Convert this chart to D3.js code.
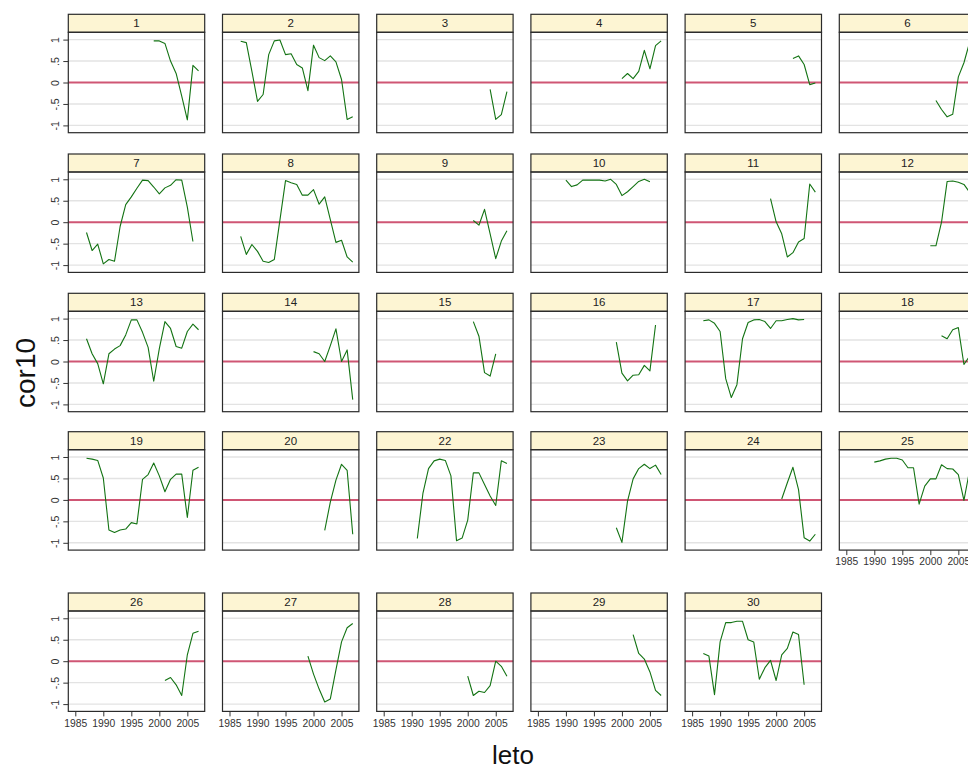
<!DOCTYPE html>
<html>
<head>
<meta charset="utf-8">
<script src="https://cdn.jsdelivr.net/npm/d3@7"></script>
<style>
  html, body { margin: 0; padding: 0; background: #fff; }
  svg { display: block; font-family: "Liberation Sans", Arial, sans-serif; }
</style>
</head>
<body>
<svg id="chart" width="968" height="767"></svg>
<script>
// Panel labels (group 21 has no data and is not drawn)
const panelIds = [1, 2, 3, 4, 5, 6, 7, 8, 9, 10, 11, 12, 13, 14, 15, 16, 17, 18,
                  19, 20, 22, 23, 24, 25, 26, 27, 28, 29, 30];

// First year of each panel's series (consecutive yearly values follow)
const startYears = [1999, 1987, 2004, 2000, 2003, 2001, 1987, 1987, 2001, 1990, 1999, 2000,
                    1987, 2000, 2001, 1999, 1987, 2002, 1987, 2002, 1991, 1999, 2001, 1990,
                    2001, 1999, 2000, 2002, 1987];

// cor10 values per panel
const cor10 = [
  [0.97, 0.97, 0.91, 0.50, 0.21, -0.32, -0.87, 0.40, 0.27],
  [0.96, 0.93, 0.26, -0.44, -0.28, 0.65, 0.97, 0.99, 0.65, 0.67, 0.42, 0.34, -0.19, 0.87, 0.58, 0.51, 0.62, 0.48, 0.07, -0.86, -0.80],
  [-0.16, -0.86, -0.75, -0.21],
  [0.09, 0.21, 0.09, 0.26, 0.75, 0.32, 0.86, 0.97],
  [0.56, 0.62, 0.42, -0.05, -0.01],
  [-0.42, -0.63, -0.80, -0.74, 0.13, 0.46, 0.93],
  [-0.24, -0.66, -0.51, -0.97, -0.87, -0.91, -0.10, 0.41, 0.59, 0.79, 0.98, 0.97, 0.82, 0.66, 0.80, 0.86, 0.99, 0.98, 0.35, -0.45],
  [-0.33, -0.75, -0.52, -0.68, -0.91, -0.94, -0.87, 0.05, 0.97, 0.92, 0.88, 0.63, 0.63, 0.76, 0.42, 0.59, 0.06, -0.47, -0.42, -0.81, -0.93],
  [0.04, -0.07, 0.30, -0.27, -0.85, -0.44, -0.20],
  [0.98, 0.83, 0.87, 0.98, 0.98, 0.98, 0.98, 0.96, 1.00, 0.88, 0.62, 0.71, 0.83, 0.95, 1.00, 0.94],
  [0.55, 0.01, -0.27, -0.81, -0.71, -0.46, -0.38, 0.89, 0.70],
  [-0.55, -0.55, 0.00, 0.95, 0.96, 0.93, 0.88, 0.70],
  [0.53, 0.18, -0.05, -0.52, 0.18, 0.29, 0.37, 0.62, 0.97, 0.97, 0.68, 0.33, -0.46, 0.30, 0.93, 0.77, 0.35, 0.31, 0.70, 0.87, 0.74],
  [0.23, 0.18, 0.00, 0.37, 0.76, 0.00, 0.27, -0.89],
  [0.93, 0.59, -0.26, -0.34, 0.18],
  [0.45, -0.27, -0.45, -0.32, -0.31, -0.09, -0.22, 0.85],
  [0.95, 0.97, 0.89, 0.70, -0.40, -0.84, -0.54, 0.53, 0.91, 0.97, 0.98, 0.93, 0.77, 0.95, 0.95, 0.98, 1.00, 0.97, 0.98],
  [0.60, 0.53, 0.74, 0.79, -0.07, 0.12],
  [0.97, 0.95, 0.92, 0.51, -0.70, -0.76, -0.70, -0.68, -0.53, -0.56, 0.48, 0.59, 0.86, 0.56, 0.19, 0.48, 0.60, 0.60, -0.41, 0.69, 0.76],
  [-0.71, -0.05, 0.46, 0.83, 0.69, -0.80],
  [-0.90, 0.15, 0.73, 0.91, 0.95, 0.92, 0.56, -0.95, -0.89, -0.47, 0.63, 0.63, 0.36, 0.09, -0.13, 0.91, 0.85],
  [-0.65, -0.99, -0.03, 0.49, 0.73, 0.83, 0.73, 0.81, 0.59],
  [0.02, 0.40, 0.76, 0.24, -0.88, -0.96, -0.80],
  [0.88, 0.91, 0.95, 0.97, 0.97, 0.93, 0.75, 0.75, -0.10, 0.32, 0.49, 0.49, 0.82, 0.73, 0.72, 0.59, -0.01, 0.68],
  [-0.45, -0.38, -0.55, -0.80, 0.15, 0.65, 0.70],
  [0.12, -0.30, -0.65, -0.95, -0.88, -0.20, 0.45, 0.78, 0.88],
  [-0.35, -0.80, -0.70, -0.73, -0.57, 0.00, -0.12, -0.35],
  [0.62, 0.18, 0.05, -0.25, -0.68, -0.80],
  [0.18, 0.12, -0.78, 0.45, 0.90, 0.90, 0.93, 0.93, 0.50, 0.45, -0.42, -0.15, 0.02, -0.45, 0.15, 0.30, 0.68, 0.62, -0.55]
];

// Axis ticks
const yTicks = [-1, -0.5, 0, 0.5, 1];
const yTickLabels = ["-1", "-.5", "0", ".5", "1"];
const xTicks = [1985, 1990, 1995, 2000, 2005];

// Grid layout: 6 columns, 5 rows
const nCols = 6;
const colLeft0 = 68.3, colStep = 154.2, plotW = 136.4;
const rowTops = [14.3, 154, 293.3, 431.7, 593];
const stripH = 18, plotH = 100.4;

const svg = d3.select("#chart");

const x = d3.scaleLinear().domain([1983.75, 2008.1]).range([0, plotW]);
const y = d3.scaleLinear().domain([-1.17, 1.17]).range([plotH, 0]);

const line = d3.line()
  .x(d => x(d.year))
  .y(d => y(d.value));

// Panels that carry their own x axis (bottom of each column)
const xAxisPanels = new Set([25, 26, 27, 28, 29, 30]);

panelIds.forEach((id, i) => {
  const col = i % nCols;
  const row = Math.floor(i / nCols);
  const left = colLeft0 + col * colStep;
  const top = rowTops[row];

  const g = svg.append("g").attr("transform", `translate(${left},${top})`);

  // strip
  g.append("rect")
    .attr("x", 0).attr("y", 0)
    .attr("width", plotW).attr("height", stripH)
    .attr("fill", "#fdf5d3")
    .attr("stroke", "#2b2b2b").attr("stroke-width", 1.2);
  g.append("text")
    .attr("x", plotW / 2).attr("y", stripH / 2 + 4.2)
    .attr("text-anchor", "middle")
    .attr("font-size", 11.5)
    .attr("fill", "#222")
    .text(id);

  const p = g.append("g").attr("transform", `translate(0,${stripH})`);

  // gridlines
  p.selectAll("line.grid")
    .data(yTicks.filter(v => v !== 0))
    .join("line")
    .attr("class", "grid")
    .attr("x1", 0).attr("x2", plotW)
    .attr("y1", d => y(d)).attr("y2", d => y(d))
    .attr("stroke", "#e3e3e3").attr("stroke-width", 1.4);

  // reference line at zero
  p.append("line")
    .attr("x1", 0).attr("x2", plotW)
    .attr("y1", y(0)).attr("y2", y(0))
    .attr("stroke", "#cf5674").attr("stroke-width", 2);

  // series
  const vals = cor10[i].map((v, k) => ({ year: startYears[i] + k, value: v }));
  p.append("path")
    .datum(vals)
    .attr("d", line)
    .attr("fill", "none")
    .attr("stroke", "#137313")
    .attr("stroke-width", 1.1)
    .attr("stroke-linejoin", "round");

  // frame
  p.append("rect")
    .attr("x", 0).attr("y", 0)
    .attr("width", plotW).attr("height", plotH)
    .attr("fill", "none")
    .attr("stroke", "#2b2b2b").attr("stroke-width", 1.2);

  // y axis on first column
  if (col === 0) {
    const yAxis = d3.axisLeft(y).tickValues(yTicks).tickSize(5).tickPadding(3)
      .tickFormat((d, k) => yTickLabels[k]);
    const ya = p.append("g").call(yAxis);
    ya.select(".domain").remove();
    ya.selectAll(".tick line").attr("stroke", "#333");
    ya.selectAll(".tick text")
      .attr("font-size", 10.5)
      .attr("font-family", "Liberation Sans, Arial, sans-serif")
      .attr("fill", "#333")
      .attr("text-anchor", "middle")
      .attr("dy", 0)
      .attr("transform", "rotate(-90)")
      .attr("x", 0)
      .attr("y", -9);
  }

  // x axis on bottom panels
  if (xAxisPanels.has(id)) {
    const xAxis = d3.axisBottom(x).tickValues(xTicks).tickSize(5).tickPadding(3)
      .tickFormat(d3.format("d"));
    const xa = p.append("g").attr("transform", `translate(0,${plotH})`).call(xAxis);
    xa.select(".domain").remove();
    xa.selectAll(".tick line").attr("stroke", "#333");
    xa.selectAll(".tick text")
      .attr("font-size", 10.3)
      .attr("font-family", "Liberation Sans, Arial, sans-serif")
      .attr("fill", "#333");
  }
});

// axis titles
svg.append("text")
  .attr("transform", "translate(35,373) rotate(-90)")
  .attr("text-anchor", "middle")
  .attr("font-size", 28)
  .attr("fill", "#111")
  .text("cor10");

svg.append("text")
  .attr("x", 513).attr("y", 764)
  .attr("text-anchor", "middle")
  .attr("font-size", 26)
  .attr("fill", "#111")
  .text("leto");
</script>
</body>
</html>
